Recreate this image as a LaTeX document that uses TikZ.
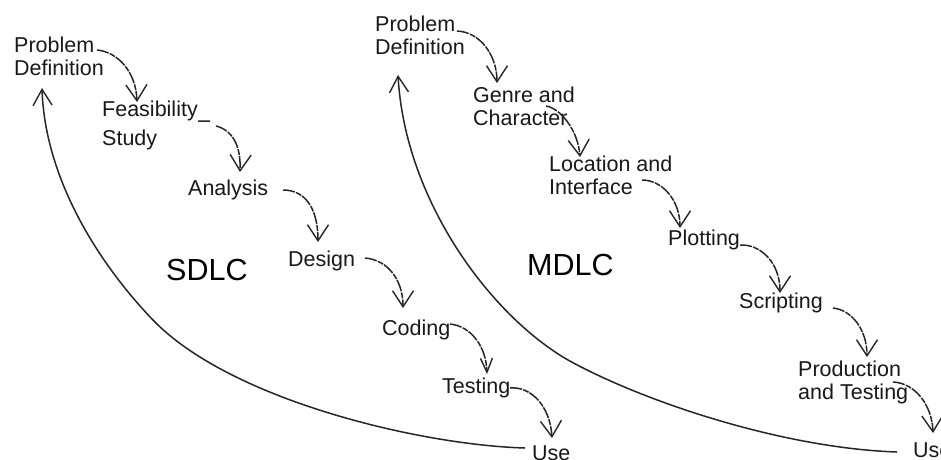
\documentclass[tikz,border=0pt]{standalone}
\usepackage{fontspec}
\setmainfont{Liberation Sans}
\usetikzlibrary{arrows.meta,calc}
\begin{document}
\begin{tikzpicture}[x=1pt,y=-1pt,
  lbl/.style={anchor=base west, inner sep=0pt, font=\fontsize{21.5}{23}\selectfont, align=left, text=black!90},
  big/.style={anchor=base west, inner sep=0pt, font=\fontsize{30.5}{34}\selectfont, text=black},
  flow/.style={draw=black!85, line width=1.5pt, dash pattern=on 12pt off 1.3pt on 6pt off 1pt,
    -{Straight Barb[length=16pt,width=21pt,line width=1.4pt]}},
  back/.style={draw=black!85, line width=1.5pt,
    -{Straight Barb[length=16pt,width=19pt,line width=1.4pt]}}]
\fill[white] (0,0) rectangle (941,459);
\useasboundingbox (0,0) rectangle (941,459);

% left cycle (multi-line nodes are placed at the baseline of their last line)
\node[lbl] (lpd) at (14,75) {Problem\\Definition};
\node[lbl] (lfs) at (102,145) {Feasibility\\[6pt]Study};
\node[lbl] (lan) at (188,195) {Analysis};
\node[lbl] (lde) at (288,266) {Design};
\node[lbl] (lco) at (382,335) {Coding};
\node[lbl] (lte) at (442,393) {Testing};
\node[lbl] (lus) at (532,460) {Use};
\node[big] (sdlc) at (166,280) {SDLC};

% right cycle
\node[lbl] (rpd) at (375,54) {Problem\\Definition};
\node[lbl] (rge) at (473,125) {Genre and\\Character};
\node[lbl] (rlo) at (549,194) {Location and\\Interface};
\node[lbl] (rpl) at (668,245) {Plotting};
\node[lbl] (rsc) at (739,308) {Scripting};
\node[lbl] (rpr) at (798,399) {Production\\and Testing};
\node[lbl] (rus) at (913,457) {Use};
\node[big] (mdlc) at (527,275) {MDLC};

% left connectors
\draw[flow] ($(lpd.base west)+(83,-25)$) .. controls (118,52) and (136,72) .. ($(lfs.base west)+(35,-43)$);
\draw[flow] ($(lfs.base west)+(96,-24)$) -- ($(lfs.base west)+(108,-24)$)
  ($(lfs.base west)+(114,-19)$) .. controls (232,130) and (241,145) .. ($(lan.base west)+(52,-23)$);
\draw[flow] ($(lan.base west)+(95,-5)$) .. controls (305,190) and (318,208) .. ($(lde.base west)+(30,-24)$);
\draw[flow] ($(lde.base west)+(77,-8)$) .. controls (388,260) and (403,280) .. ($(lco.base west)+(21,-27)$);
\draw[flow, -{Straight Barb[length=14pt,width=12pt,line width=1.4pt]}] ($(lco.base west)+(68,-11)$) .. controls (470,326) and (486,345) .. ($(lte.base west)+(45,-19)$);
\draw[flow] ($(lte.base west)+(68,-5)$) .. controls (530,386) and (550,405) .. ($(lus.base west)+(20,-22)$);
\draw[back] ($(lus.base west)+(-7,-12)$) .. controls (420,445) and (230,400) .. (153,320)
  .. controls (100,265) and (45,180) .. ($(lpd.base west)+(28,13)$);

% right connectors
\draw[flow] ($(rpd.base west)+(82,-23)$) .. controls (480,32) and (497,55) .. ($(rge.base west)+(24,-42)$);
\draw[flow] ($(rge.base west)+(73,-19)$) .. controls (560,108) and (578,130) .. ($(rlo.base west)+(31,-37)$);
\draw[flow] ($(rlo.base west)+(93,-14)$) .. controls (662,180) and (680,200) .. ($(rpl.base west)+(12,-17)$);
\draw[flow] ($(rpl.base west)+(72,0)$) .. controls (760,244) and (780,262) .. ($(rsc.base west)+(41,-15)$);
\draw[flow] ($(rsc.base west)+(94,0)$) .. controls (852,310) and (867,330) .. ($(rpr.base west)+(69,-42)$);
\draw[flow] ($(rpr.base west)+(95,-17)$) .. controls (915,383) and (932,405) .. ($(rus.base west)+(20,-24)$);
\draw[back] ($(rus.base west)+(-16,-5)$) .. controls (780,448) and (640,400) .. (568,360)
  .. controls (490,315) and (405,200) .. ($(rpd.base west)+(23,21)$);
\end{tikzpicture}
\end{document}
